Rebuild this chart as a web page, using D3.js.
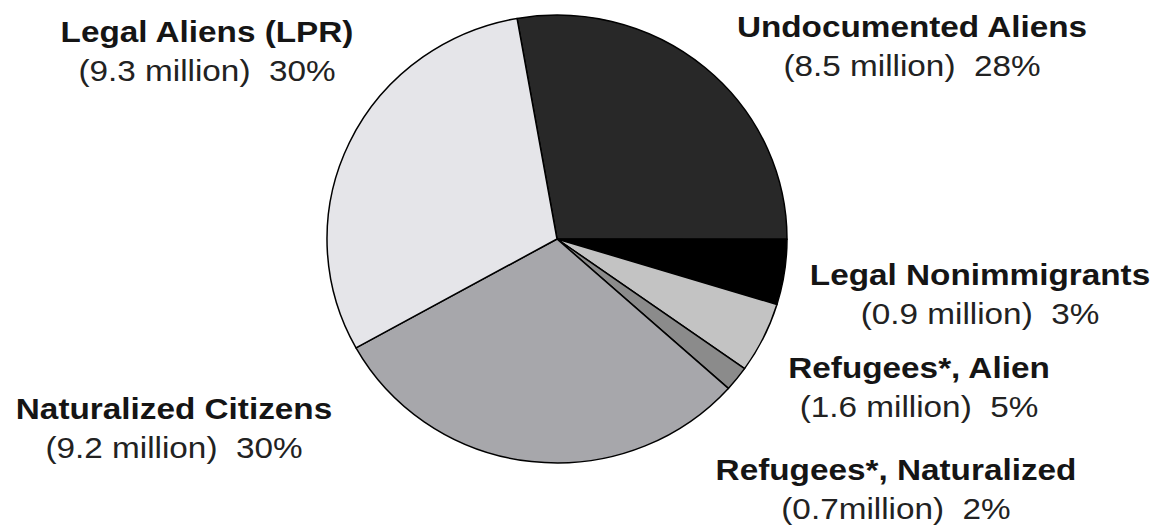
<!DOCTYPE html>
<html>
<head>
<meta charset="utf-8">
<script src="https://cdn.jsdelivr.net/npm/d3@7"></script>
<style>
  body { margin: 0; background: #fff; }
  text { font-family: "Liberation Sans", Arial, sans-serif; fill: #151515; }
</style>
</head>
<body>
<div class="container"></div>
<script>
const wd = 1157
const ht = 527

// data, clockwise from the top
const categories = ["Undocumented Aliens", "Legal Nonimmigrants", "Refugees*, Alien",
  "Refugees*, Naturalized", "Naturalized Citizens", "Legal Aliens (LPR)"]
const millions = ["8.5 million", "0.9 million", "1.6 million", "0.7million", "9.2 million", "9.3 million"]
const percents = ["28%", "3%", "5%", "2%", "30%", "30%"]
// share of the circle each slice actually takes in the picture (%)
const sliceShare = [27.8, 4.7, 5.1, 1.8, 30.3, 30.3]
const sliceColors = ["#282828", "#000000", "#c3c3c3", "#8b8b8b", "#a7a7ab", "#e5e5e9"]

// label placement (center x, first baseline)
const labelPos = [[912, 37], [980, 285], [919, 378], [896, 480], [174, 419], [207, 42]]

const svgC = d3.select(".container")
  .append("svg")
  .attr("width", wd)
  .attr("height", ht)

const cx = 557, cy = 239
const rx = 230, ry = 224

const pie = d3.pie()
  .sort(null)
  .value(d => d)
  .startAngle(-10 * Math.PI / 180)
  .endAngle(350 * Math.PI / 180)

const arc = d3.arc()
  .innerRadius(0)
  .outerRadius(rx)

const g = svgC.append("g")
  .attr("transform", `translate(${cx},${cy}) scale(1,${ry / rx})`)

g.selectAll("path")
  .data(pie(sliceShare))
  .enter()
  .append("path")
  .attr("d", arc)
  .attr("fill", (d, i) => sliceColors[i])
  .attr("stroke", "#000")
  .attr("stroke-width", 1.5)
  .attr("vector-effect", "non-scaling-stroke")
  .attr("stroke-linejoin", "round")

// labels - the original type is a bit wider than Arial, so stretch it
const lab = svgC.selectAll("g.lab")
  .data(categories)
  .enter()
  .append("g")
  .attr("class", "lab")
  .attr("transform", (d, i) => `translate(${labelPos[i][0]},${labelPos[i][1]}) scale(1.11,1)`)

lab.append("text")
  .attr("text-anchor", "middle")
  .style("font-size", "30px")
  .style("font-weight", "bold")
  .text(d => d)

lab.append("text")
  .attr("text-anchor", "middle")
  .attr("y", 39)
  .style("font-size", "30px")
  .style("fill", "#222")
  .attr("xml:space", "preserve")
  .style("white-space", "pre")
  .text((d, i) => `(${millions[i]})  ${percents[i]}`)
</script>
</body>
</html>
